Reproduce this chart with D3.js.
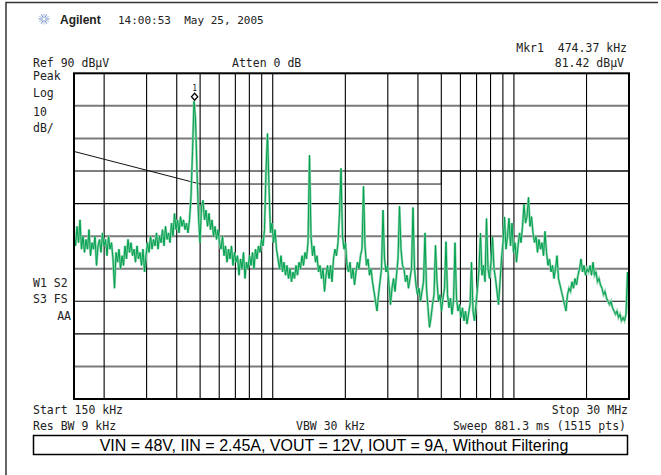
<!DOCTYPE html>
<html>
<head>
<meta charset="utf-8">
<script src="https://cdn.jsdelivr.net/npm/d3@7"></script>
<style>
  body { margin: 0; background: #fff; }
  text { font-family: "DejaVu Sans Mono", monospace; font-size: 11.5px; fill: #222; }
</style>
</head>
<body>
<svg id="chart"></svg>
<script>
// analyzer settings
const startHz = 150e3;
const stopHz = 30e6;
const refLevel = 90;
const dbPerDiv = 10;
const divisions = 10;

// graticule frequencies (log grid)
const gridFreqs = [200e3, 300e3, 400e3, 500e3, 600e3, 700e3, 800e3, 900e3, 1e6,
  2e6, 3e6, 4e6, 5e6, 6e6, 7e6, 8e6, 9e6, 10e6, 20e6];

// limit line (dBuV)
const limitFreqs = [150e3, 500e3, 5e6, 5e6, 30e6];
const limitLevels = [66, 56, 56, 60, 60];

// marker 1
const markerFreq = 474.37e3;
const markerLevel = 81.42;

// trace (dBuV), sweep points evenly spaced on the log axis
const traceLevels = [
  41, 37, 43, 38, 45, 36, 40, 35, 39, 36, 42, 34, 38, 36, 40, 31, 37, 39, 35, 41, 37, 39, 34, 40, 36,
  38, 33, 24, 35, 32, 36, 30, 34, 31, 37, 33, 39, 35, 38, 34, 36, 32, 37, 33, 35, 31, 36, 29, 34,
  38, 35, 40, 36, 39, 37, 41, 36, 40, 38, 42, 37, 43, 39, 41, 38, 44, 40,
  47, 42, 45, 41, 46, 43, 45, 42, 44, 41, 45,
  52, 66, 81.4, 76, 60, 46,
  38, 49, 51, 45, 48, 43, 47, 42, 45, 40, 43, 39, 42, 38,
  36, 40, 34, 37, 32, 36, 33, 37, 31, 35, 32, 34, 28, 33, 30, 35, 27, 32, 30, 34, 31, 35, 30, 36, 33,
  37, 35, 39, 37, 42, 60, 71.5, 55, 41, 44, 38, 42, 36,
  33, 30, 34, 29, 32, 28, 31, 27, 30, 26, 29, 27, 31, 28, 32, 30, 34, 31, 35, 33, 38, 64.8,
  40, 34, 37, 32, 34, 29, 31, 27, 30, 23, 28, 31, 27,
  31, 26, 33, 36, 34, 38, 47, 60.8, 40, 36, 38, 31, 29, 32, 27, 30, 25, 29, 32, 30, 34, 36, 55.3,
  37, 31, 33, 28, 30, 26, 23, 20, 17, 22, 26, 30,
  48,
  33, 29, 31, 25, 19, 24, 27, 23, 28, 33, 49.2,
  36, 31, 30, 26, 28, 24, 27, 30, 48.8,
  30, 25, 22, 24, 20, 23, 26, 41,
  24, 18, 12, 15, 19, 22, 37.2,
  26, 20, 22, 17, 21, 24, 38.3, 22, 18, 21, 16, 20, 38, 21, 17, 19, 15, 18, 14, 17, 13, 16, 19, 32, 17, 14, 19,
  24, 30, 40.9, 28, 31, 26, 45.4, 30, 27, 32, 39.8, 30, 27, 23, 19, 26, 33, 38,
  45.9, 36, 40, 45.5, 37, 44, 35, 38, 32, 37, 41, 38, 43, 49.8, 44, 46, 51.9, 43,
  46, 41, 38, 40, 35, 39, 36, 38, 34, 41.5, 35,
  31, 33, 29, 31, 27, 30, 34, 27, 25, 23, 21, 19, 17, 22, 24, 23,
  26, 24, 27, 25, 28, 30, 33, 29, 31, 28, 30, 29, 31, 28, 32,
  28, 29, 26, 27, 25, 24, 22, 23, 21, 20, 19, 20, 18, 17, 16, 17, 15, 16, 14, 15,
  14, 16, 29, 16
];

const width = 661;
const height = 475;
const plot = { left: 74, right: 629, top: 73.3, bottom: 399 };

const svg = d3.select("#chart").attr("width", width).attr("height", height);

const x = d3.scaleLog().domain([startHz, stopHz]).range([plot.left, plot.right]);
const y = d3
  .scaleLinear()
  .domain([refLevel - dbPerDiv * divisions, refLevel])
  .range([plot.bottom, plot.top]);
const sweep = d3
  .scaleLinear()
  .domain([0, traceLevels.length - 1])
  .range(x.range());

// outer frame (top + left only)
svg.append("path")
  .attr("d", `M6,475V2.5H658`)
  .attr("fill", "none")
  .attr("stroke", "#333")
  .attr("stroke-width", 1.5);

// Agilent spark
const spark = svg.append("g").attr("transform", "translate(44,19)");
d3.range(12).forEach((k) => {
  const a = (k * Math.PI) / 6;
  spark.append("line")
    .attr("x1", Math.cos(a) * 1.5).attr("y1", Math.sin(a) * 1.5)
    .attr("x2", Math.cos(a) * 5.5).attr("y2", Math.sin(a) * 5.5)
    .attr("stroke", k % 2 ? "#a9b9dc" : "#6f8cc9")
    .attr("stroke-width", 1);
});
svg.append("text")
  .attr("x", 60).attr("y", 24)
  .style("font-family", "'Liberation Sans', Arial, sans-serif")
  .style("font-weight", "bold").style("font-size", "12px")
  .text("Agilent");
svg.append("text").attr("x", 118).attr("y", 24).style("font-size", "11px")
  .attr("xml:space", "preserve").text("14:00:53  May 25, 2005");

// header lines
svg.append("text").attr("x", 627).attr("y", 52).attr("text-anchor", "end")
  .attr("xml:space", "preserve").text("Mkr1  474.37 kHz");
svg.append("text").attr("x", 624).attr("y", 67).attr("text-anchor", "end").text("81.42 dBµV");
svg.append("text").attr("x", 33).attr("y", 67).text("Ref 90 dBµV");
svg.append("text").attr("x", 232).attr("y", 67).text("Atten 0 dB");

// left side annotations
const leftLabels = [["Peak", 80], ["Log", 97], ["10", 116], ["dB/", 132]];
leftLabels.forEach(([t, yy]) => svg.append("text").attr("x", 33).attr("y", yy).text(t));
svg.append("text").attr("x", 33).attr("y", 287).text("W1 S2");
svg.append("text").attr("x", 33).attr("y", 303).text("S3 FS");
svg.append("text").attr("x", 71).attr("y", 320).attr("text-anchor", "end").text("AA");

// graticule (some rows render grey on the screen capture)
const greyRows = [true, true, false, false, true, true, false, false, true];
const grid = svg.append("g");
grid.selectAll(".hgrid")
  .data(y.ticks(divisions).filter((v) => v > y.domain()[0] && v < y.domain()[1]).reverse())
  .join("line")
  .attr("class", "hgrid")
  .attr("x1", plot.left).attr("x2", plot.right)
  .attr("y1", (d) => y(d)).attr("y2", (d) => y(d))
  .attr("stroke", (d, i) => (greyRows[i] ? "#7a7a7a" : "#000"))
  .attr("stroke-width", (d, i) => (greyRows[i] ? 2 : 1.1));
grid.selectAll(".vgrid")
  .data(gridFreqs)
  .join("line")
  .attr("class", "vgrid")
  .attr("x1", (d) => x(d)).attr("x2", (d) => x(d))
  .attr("y1", plot.top).attr("y2", plot.bottom)
  .attr("stroke", "#000").attr("stroke-width", 1.1);

// limit line
const limitLine = d3.line().x((d) => x(d[0])).y((d) => y(d[1]));
svg.append("path")
  .datum(limitFreqs.map((f, i) => [f, limitLevels[i]]))
  .attr("d", limitLine)
  .attr("fill", "none").attr("stroke", "#111").attr("stroke-width", 1);

// trace
const trace = d3.line()
  .x((d, i) => x(x.invert(sweep(i))))
  .y((d) => y(d));
svg.append("clipPath").attr("id", "clip").append("rect")
  .attr("x", plot.left).attr("y", plot.top)
  .attr("width", plot.right - plot.left).attr("height", plot.bottom - plot.top);
svg.append("path").datum(traceLevels).attr("d", trace)
  .attr("clip-path", "url(#clip)")
  .attr("fill", "none").attr("stroke", "#8fd4ad").attr("stroke-width", 2.4);
svg.append("path").datum(traceLevels).attr("d", trace)
  .attr("clip-path", "url(#clip)")
  .attr("fill", "none").attr("stroke", "#00a04f").attr("stroke-width", 1);

// plot border
svg.append("rect")
  .attr("x", plot.left).attr("y", plot.top)
  .attr("width", plot.right - plot.left).attr("height", plot.bottom - plot.top)
  .attr("fill", "none").attr("stroke", "#000").attr("stroke-width", 2);

// marker
const mx = x(markerFreq);
const my = y(markerLevel) - 4.5;
svg.append("path")
  .attr("d", `M${mx},${my - 3.5}L${mx + 3.2},${my}L${mx},${my + 3.5}L${mx - 3.2},${my}Z`)
  .attr("fill", "#fff").attr("stroke", "#000").attr("stroke-width", 1.2);
svg.append("text").attr("x", mx).attr("y", my - 6).attr("text-anchor", "middle")
  .style("font-size", "8px").text("1");

// footer
svg.append("text").attr("x", 33).attr("y", 414).text("Start 150 kHz");
svg.append("text").attr("x", 628).attr("y", 414).attr("text-anchor", "end").text("Stop 30 MHz");
svg.append("text").attr("x", 33).attr("y", 430).text("Res BW 9 kHz");
svg.append("text").attr("x", 296).attr("y", 430).text("VBW 30 kHz");
svg.append("text").attr("x", 626).attr("y", 430).attr("text-anchor", "end").text("Sweep 881.3 ms (1515 pts)");

svg.append("rect")
  .attr("x", 33.5).attr("y", 435.5).attr("width", 594).attr("height", 19)
  .attr("fill", "#fff").attr("stroke", "#000").attr("stroke-width", 1.5);
svg.append("text").attr("x", 334).attr("y", 451).attr("text-anchor", "middle")
  .style("font-family", "'Liberation Sans', Arial, sans-serif").style("font-size", "16px")
  .style("fill", "#000")
  .text("VIN = 48V, IIN = 2.45A, VOUT = 12V, IOUT = 9A, Without Filtering");
</script>
</body>
</html>
